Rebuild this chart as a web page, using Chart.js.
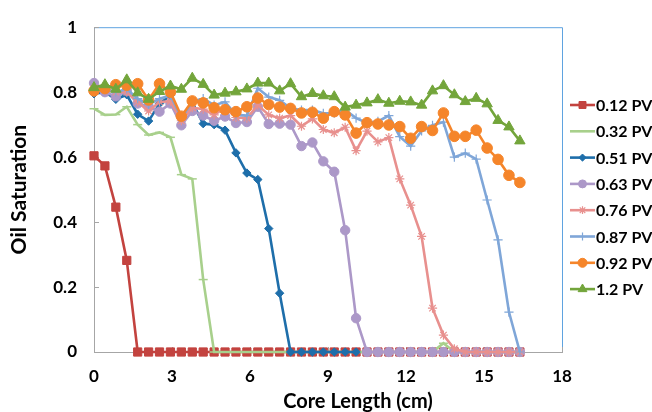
<!DOCTYPE html>
<html><head><meta charset="utf-8">
<script src="https://cdn.jsdelivr.net/npm/chart.js@4.4.0/dist/chart.umd.min.js"></script>
<style>html,body{margin:0;padding:0;background:#fff;overflow:hidden}#wrap{width:652px;height:412px;position:relative}</style>
</head><body><div id="wrap"><canvas id="c" width="652" height="412"></canvas></div>
<script>
// ---- data ----
const coreLength = [0,0.42,0.84,1.26,1.68,2.1,2.52,2.94,3.36,3.78,4.2,4.62,5.04,5.46,5.88,6.3,6.72,7.14,7.56,7.98,8.4,8.82,9.24,9.66,10.08,10.5,10.92,11.34,11.76,12.18,12.6,13.02,13.44,13.86,14.28,14.7,15.12,15.54,15.96,16.38];
const seriesNames = ['0.12 PV','0.32 PV','0.51 PV','0.63 PV','0.76 PV','0.87 PV','0.92 PV','1.2 PV'];
const pv012 = [0.604,0.573,0.446,0.282,0,0,0,0,0,0,0,0,0,0,0,0,0,0,0,0,0,0,0,0,0,0,0,0,0,0,0,0,0,0,0,0,0,0,0,0];
const pv032 = [0.749,0.730,0.731,0.755,0.700,0.668,0.676,0.661,0.546,0.533,0.223,0,0,0,0,0,0,0,0,0,0,0,0,0,0,0,0,0,0,0,0,0,0.027,0,0,0,0,0,0,0];
const pv051 = [0.795,0.800,0.778,0.792,0.732,0.711,0.765,0.790,0.722,0.768,0.703,0.700,0.683,0.613,0.551,0.531,0.380,0.181,0,0,0,0,0,0,0,null,null,null,null,null,null,null,null,null,null,null,null,null,null,null];
const pv063 = [0.828,0.800,0.787,0.804,0.765,0.755,0.740,0.765,0.698,0.742,0.728,0.712,0.725,0.705,0.708,0.755,0.702,0.703,0.700,0.634,0.645,0.587,0.555,0.375,0.104,0,0,0,0,0,0,0,0,0,0,0,0,0,0,0];
const pv076 = [0.812,0.808,0.800,0.800,0.770,0.742,0.770,0.772,0.712,0.752,0.748,0.730,0.752,0.722,0.720,0.760,0.730,0.720,0.728,0.695,0.718,0.685,0.675,0.692,0.620,0.680,0.647,0.660,0.533,0.452,0.356,0.135,0.052,0.010,0,0,0,0,0,0];
const pv087 = [0.800,0.812,0.800,0.810,0.780,0.762,0.780,0.790,0.722,0.770,0.780,0.760,0.770,0.730,0.728,0.812,0.785,0.775,0.750,0.745,0.745,0.735,0.735,0.745,0.720,0.705,0.710,0.728,0.663,0.634,0.681,0.698,0.708,0.600,0.612,0.594,0.468,0.345,0.123,0];
const pv092 = [0.804,0.811,0.823,0.821,0.826,0.776,0.826,0.800,0.726,0.773,0.767,0.752,0.746,0.740,0.755,0.782,0.762,0.754,0.750,0.736,0.738,0.720,0.740,0.730,0.674,0.706,0.702,0.699,0.694,0.658,0.694,0.682,0.736,0.664,0.664,0.683,0.628,0.593,0.544,0.522];
const pv12 = [0.814,0.823,0.809,0.838,0.798,0.778,0.802,0.819,0.809,0.843,0.824,0.791,0.797,0.801,0.810,0.828,0.828,0.804,0.826,0.786,0.796,0.789,0.786,0.754,0.760,0.767,0.777,0.766,0.772,0.770,0.760,0.804,0.820,0.792,0.771,0.781,0.764,0.713,0.693,0.650];
const xTickValues = [0,3,6,9,12,15,18];
const xTickLabels = ['0','3','6','9','12','15','18'];
const yTickValues = [0,0.2,0.4,0.6,0.8,1];
const yTickLabels = ['0','0.2','0.4','0.6','0.8','1'];
const xTitle = 'Core Length (cm)';
const yTitle = 'Oil Saturation';

// ---- styles ----
const seriesValues = [pv012,pv032,pv051,pv063,pv076,pv087,pv092,pv12];
const colors = ['#C3433F','#A8D08C','#1E6EAA','#AC98C8','#E8908E','#7FA6D8','#F5852A','#73A53B'];
const styles = [
  {ps:'rect', r:5.8, bw:1},
  {ps:'line', r:4.5, bw:1.5},
  {ps:'rectRot', r:4.2, bw:1},
  {ps:'circle', r:4.7, bw:1},
  {ps:'star', r:4.6, bw:1.2},
  {ps:'cross', r:4.6, bw:1.2},
  {ps:'circle', r:5.3, bw:1},
  {ps:'triangle', r:6, bw:1}
];
const FONT = 'Lato, "Open Sans", "DejaVu Sans", sans-serif';

const datasets = seriesValues.map((vals,k)=>({
  label: seriesNames[k],
  data: coreLength.map((x,i)=>({x:x, y:vals[i]})),
  borderColor: colors[k],
  backgroundColor: colors[k],
  pointBackgroundColor: colors[k],
  pointBorderColor: colors[k],
  borderWidth: 2.6,
  pointStyle: styles[k].ps,
  pointRadius: styles[k].r,
  pointBorderWidth: styles[k].bw,
  tension: 0,
  clip: false,
  spanGaps: false,
  order: seriesValues.length - k
}));

const framePlugin = {
  id:'frame',
  beforeDatasetsDraw(chart){
    const {ctx, chartArea:a, scales} = chart;
    ctx.save();
    ctx.strokeStyle = '#5FA3E0';
    ctx.lineWidth = 1;
    ctx.beginPath();
    ctx.moveTo(a.left, a.top+0.5); ctx.lineTo(a.right+0.5, a.top+0.5); ctx.lineTo(a.right+0.5, a.bottom);
    ctx.stroke();
    // inner tick marks
    ctx.strokeStyle = '#A6A6A6';
    ctx.beginPath();
    xTickValues.forEach(v=>{
      const px = Math.round(scales.x.getPixelForValue(v))+0.5;
      ctx.moveTo(px, a.bottom); ctx.lineTo(px, a.bottom-5);
    });
    yTickValues.forEach(v=>{
      const py = Math.round(scales.y.getPixelForValue(v))+0.5;
      ctx.moveTo(a.left, py); ctx.lineTo(a.left+5, py);
    });
    ctx.stroke();
    // x axis title (offset to the right as in the original)
    ctx.fillStyle = '#000';
    ctx.font = 'bold 20px ' + FONT;
    ctx.textAlign = 'center';
    ctx.textBaseline = 'middle';
    ctx.fillText(xTitle, 358, 402);
    ctx.restore();
  }
};

const legendPlugin = {
  id:'customLegend',
  afterDraw(chart){
    const ctx = chart.ctx;
    ctx.save();
    chart.data.datasets.forEach((ds,k)=>{
      const y = 105 + k*26.3;
      ctx.strokeStyle = ds.borderColor;
      ctx.lineWidth = 2.6;
      ctx.beginPath(); ctx.moveTo(570,y); ctx.lineTo(595,y); ctx.stroke();
      ctx.fillStyle = ds.pointBackgroundColor;
      ctx.strokeStyle = ds.pointBorderColor;
      ctx.lineWidth = ds.pointBorderWidth;
      if (Chart.helpers && Chart.helpers.drawPoint) {
        Chart.helpers.drawPoint(ctx, {pointStyle: ds.pointStyle, radius: ds.pointRadius*0.85, borderWidth: ds.pointBorderWidth, rotation:0}, 582.5, y);
      }
      ctx.fillStyle = '#000';
      ctx.font = 'bold 16px ' + FONT;
      ctx.textAlign = 'left';
      ctx.textBaseline = 'middle';
      ctx.fillText(ds.label, 596, y+1);
    });
    ctx.restore();
  }
};

new Chart(document.getElementById('c'), {
  type:'line',
  data:{datasets},
  plugins:[framePlugin, legendPlugin],
  options:{
    responsive:false, animation:false, devicePixelRatio:1,
    layout:{padding:{top:22, right:90, left:0, bottom:0}},
    plugins:{legend:{display:false}, tooltip:{enabled:false}},
    scales:{
      x:{
        type:'linear', min:0, max:18,
        afterBuildTicks(s){ s.ticks = xTickValues.map(v=>({value:v})); },
        afterFit(s){ s.height = 60; },
        ticks:{ color:'#000', font:{family:FONT, size:17, weight:'bold'}, padding:14, maxRotation:0, autoSkip:false,
          callback:(v)=>{ const i = xTickValues.indexOf(v); return i>=0 ? xTickLabels[i] : ''; } },
        grid:{display:false, drawTicks:false},
        border:{display:true, color:'#A6A6A6', width:1},
        title:{display:false}
      },
      y:{
        type:'linear', min:0, max:1,
        afterBuildTicks(s){ s.ticks = yTickValues.map(v=>({value:v})); },
        afterFit(s){ s.width = 94; },
        ticks:{ color:'#000', font:{family:FONT, size:17, weight:'bold'}, padding:17,
          callback:(v)=>{ const i = yTickValues.findIndex(t=>Math.abs(t-v)<1e-9); return i>=0 ? yTickLabels[i] : ''; } },
        grid:{display:false, drawTicks:false},
        border:{display:true, color:'#A6A6A6', width:1},
        title:{display:true, text:yTitle, color:'#000', font:{family:FONT, size:21, weight:'bold', lineHeight:1}, padding:{top:8.5,bottom:0}}
      }
    }
  }
});
</script></body></html>
